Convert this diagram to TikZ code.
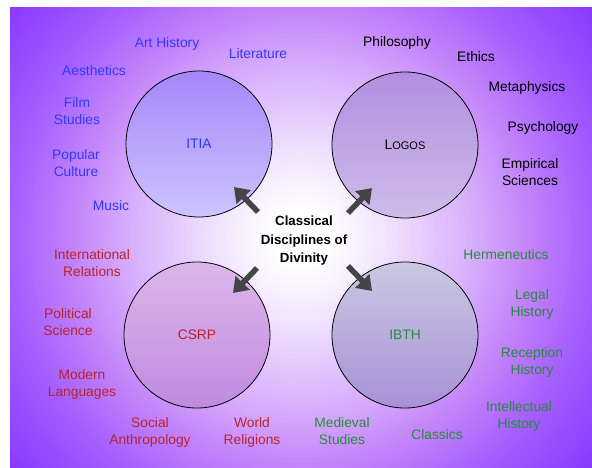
\documentclass[tikz,border=0pt]{standalone}
\usepackage{fontspec}
\setmainfont{Liberation Sans}
\usepackage{xcolor}
\usepackage{tikz}
\usetikzlibrary{arrows.meta,calc}

\definecolor{glowinner}{RGB}{238,222,253}
\definecolor{glowmid}{RGB}{216,176,252}
\definecolor{glowedge}{RGB}{195,132,250}
\definecolor{glowside}{RGB}{165,95,255}
\definecolor{glowcorner}{RGB}{140,58,255}
\definecolor{itiablue}{RGB}{48,58,250}
\definecolor{csrpred}{RGB}{185,35,42}
\definecolor{ibthgreen}{RGB}{38,140,58}
\definecolor{arrowgray}{RGB}{68,68,68}

\begin{document}
\begin{tikzpicture}[x=1pt, y=-1pt]
  % Define styles
  \tikzstyle{field} = [circle, draw, line width=0.8pt, minimum size=146pt, inner sep=0pt, font=\fontsize{13.8}{17}\selectfont]
  \tikzstyle{topic} = [align=center, inner sep=1pt, font=\fontsize{13.8}{17}\selectfont]
  \tikzstyle{hub} = [align=center, font=\bfseries\fontsize{13.3}{18.5}\selectfont]
  \tikzstyle{bigarrow} = [line width=5.5pt, draw=arrowgray, -{Triangle[length=14pt,width=19pt]}]

  \useasboundingbox (0,0) rectangle (592,468);

  % Background glow, drawn as rings from the rim inwards
  \begin{scope}
    \clip (10,8) rectangle (592,468);
    \fill[glowcorner] (10,8) rectangle (592,468);
    \foreach \ra/\rb/\ca/\cb in {291/372/glowside/glowcorner, 230/291/glowedge/glowside,
        171/230/glowmid/glowedge, 97/171/glowinner/glowmid, 30/97/white/glowinner}
      \foreach \k in {12,11,...,1} {
        \pgfmathsetmacro\rr{\ra+(\rb-\ra)*\k/12}
        \pgfmathtruncatemacro\pp{100*\k/12}
        \fill[\cb!\pp!\ca] (301,238) circle (\rr pt);
      }
    \fill[white] (301,238) circle (30pt);
  \end{scope}

  % The four fields
  \node [field, shading angle=45, top color={rgb,255:red,165;green,135;blue,250}, bottom color={rgb,255:red,205;green,196;blue,255}, text=itiablue] (itia) at (199,144) {ITIA};
  \node [field, shading angle=-45, top color={rgb,255:red,178;green,142;blue,224}, bottom color={rgb,255:red,206;green,188;blue,234}] (logos) at (405,145) {L{\fontsize{11}{13}\selectfont OGOS}};
  \node [field, shading angle=-45, top color={rgb,255:red,220;green,182;blue,234}, bottom color={rgb,255:red,192;green,138;blue,224}, text=csrpred] (csrp) at (197,335) {CSRP};
  \node [field, shading angle=45, top color={rgb,255:red,202;green,200;blue,226}, bottom color={rgb,255:red,168;green,144;blue,214}, text=ibthgreen] (ibth) at (405,335) {IBTH};

  % Centre
  \node [hub] (divinity) at (304,241) {Classical\\Disciplines of\\Divinity};

  % Arrows out of the centre
  \coordinate (itia-tail) at (258,212);
  \coordinate (itia-tip) at (234,187);
  \coordinate (logos-tail) at (348,213);
  \coordinate (logos-tip) at (372,188);
  \coordinate (csrp-tail) at (257,268);
  \coordinate (csrp-tip) at (233,293);
  \coordinate (ibth-tail) at (348,266);
  \coordinate (ibth-tip) at (372,291);
  \draw [bigarrow] (itia-tail) -- (itia-tip);
  \draw [bigarrow] (logos-tail) -- (logos-tip);
  \draw [bigarrow] (csrp-tail) -- (csrp-tip);
  \draw [bigarrow] (ibth-tail) -- (ibth-tip);

  % ITIA disciplines
  \node [topic, text=itiablue] (arthist) at (167,44) {Art History};
  \node [topic, text=itiablue] (lit) at (258,54) {Literature};
  \node [topic, text=itiablue] (aesth) at (94,71) {Aesthetics};
  \node [topic, text=itiablue] (film) at (77,111.5) {Film\\Studies};
  \node [topic, text=itiablue] (popcult) at (76,163.5) {Popular\\Culture};
  \node [topic, text=itiablue] (music) at (111,206) {Music};

  % Logos disciplines
  \node [topic] (philo) at (397,43) {Philosophy};
  \node [topic] (ethics) at (476,57) {Ethics};
  \node [topic] (metaph) at (527,88) {Metaphysics};
  \node [topic] (psych) at (543,128) {Psychology};
  \node [topic] (empsci) at (530,172) {Empirical\\Sciences};

  % CSRP disciplines
  \node [topic, text=csrpred] (intrel) at (92,263.5) {International\\Relations};
  \node [topic, text=csrpred] (polsci) at (68,322.5) {Political\\Science};
  \node [topic, text=csrpred] (modlang) at (82,384) {Modern\\Languages};
  \node [topic, text=csrpred] (socanth) at (150,432) {Social\\Anthropology};
  \node [topic, text=csrpred] (worldrel) at (252,432) {World\\Religions};

  % IBTH disciplines
  \node [topic, text=ibthgreen] (herm) at (506,255) {Hermeneutics};
  \node [topic, text=ibthgreen] (legal) at (532,304) {Legal\\History};
  \node [topic, text=ibthgreen] (recep) at (532,362) {Reception\\History};
  \node [topic, text=ibthgreen] (intell) at (519,416) {Intellectual\\History};
  \node [topic, text=ibthgreen] (classics) at (437,435) {Classics};
  \node [topic, text=ibthgreen] (medieval) at (342,431.5) {Medieval\\Studies};
\end{tikzpicture}
\end{document}
